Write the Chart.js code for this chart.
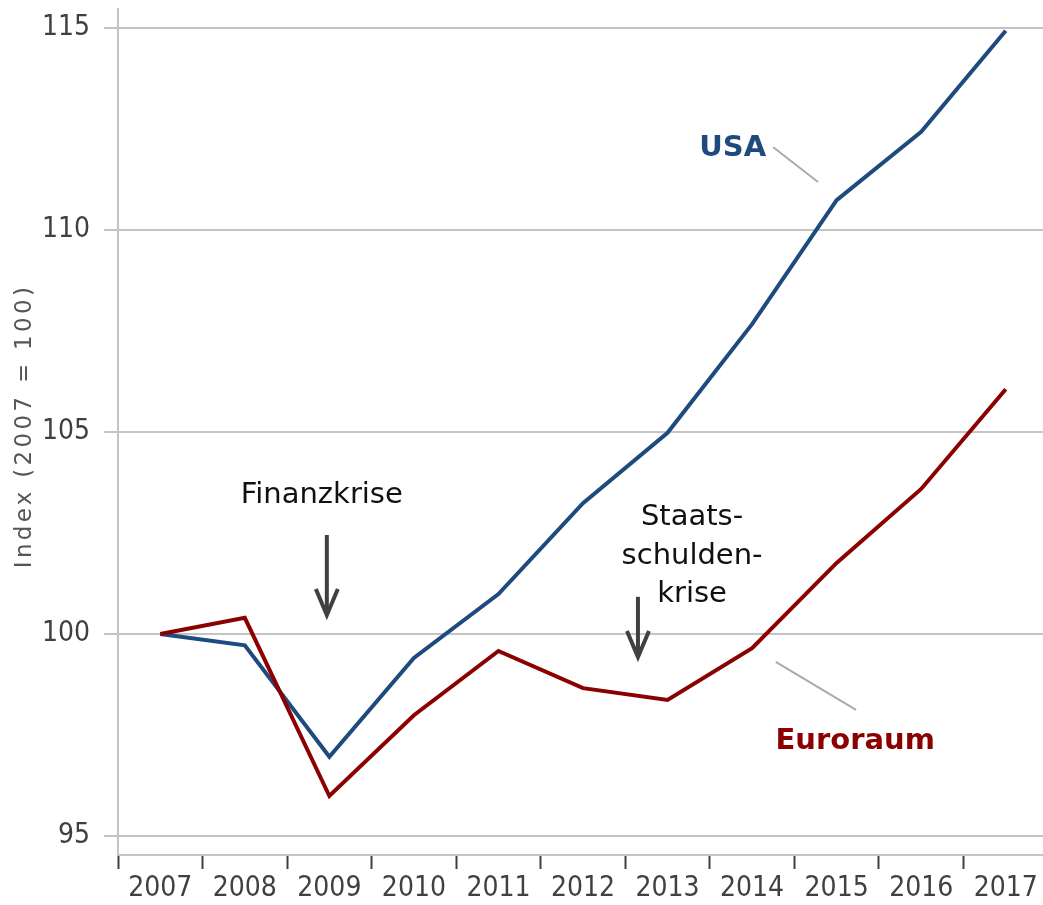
<!DOCTYPE html>
<html><head><meta charset="utf-8">
<script src="https://cdn.jsdelivr.net/npm/chart.js@4/dist/chart.umd.min.js"></script>
<style>
html,body{margin:0;padding:0;background:#fff;overflow:hidden;}
#wrap{position:relative;width:1048px;height:905px;}
</style></head>
<body><div id="wrap"><canvas id="c"></canvas></div>
<script>
const years = ['2007','2008','2009','2010','2011','2012','2013','2014','2015','2016','2017'];
const usa = [100, 99.72, 96.96, 99.41, 100.99, 103.24, 104.98, 107.67, 110.74, 112.43, 114.93];
const euro = [100, 100.40, 95.99, 97.99, 99.58, 98.66, 98.37, 99.65, 101.76, 103.59, 106.06];
const yTicks = [95, 100, 105, 110, 115];
const yTitle = 'Index (2007 = 100)';

const TICKFONT = "'DejaVu Sans Condensed', 'DejaVu Sans', sans-serif";
const FONT = "'DejaVu Sans', sans-serif";

const annot = {
  texts: [
    {t:['USA'], x:6.77, y:112.03, color:'#1f4a7e', bold:true, size:29},
    {t:['Euroraum'], x:8.22, y:97.33, color:'#8b0000', bold:true, size:29},
    {t:['Finanzkrise'], x:1.91, y:103.42, color:'#111', bold:false, size:29},
    {t:['Staats-','schulden-','krise'], x:6.29, y:101.93, color:'#111', bold:false, size:29, lh:38.5}
  ],
  leaders: [
    {x1:7.25, y1:112.05, x2:7.78, y2:111.19},
    {x1:7.28, y1:99.31, x2:8.23, y2:98.12}
  ],
  arrows: [
    {x:1.97, y1:102.45, y2:100.47},
    {x:5.65, y1:100.92, y2:99.43}
  ]
};

const annotPlugin = {
  id:'annot',
  afterDatasetsDraw(chart){
    const ctx = chart.ctx, xs = chart.scales.x, ys = chart.scales.y;
    const X = v => xs.getPixelForValue(v), Y = v => ys.getPixelForValue(v);
    ctx.save();
    ctx.strokeStyle = '#aaaaaa'; ctx.lineWidth = 2;
    annot.leaders.forEach(l => {
      ctx.beginPath(); ctx.moveTo(X(l.x1), Y(l.y1)); ctx.lineTo(X(l.x2), Y(l.y2)); ctx.stroke();
    });
    ctx.strokeStyle = '#404040'; ctx.lineWidth = 4; ctx.lineCap='butt'; ctx.lineJoin='miter';
    annot.arrows.forEach(a => {
      const x = X(a.x), y1 = Y(a.y1), y2 = Y(a.y2);
      ctx.beginPath(); ctx.moveTo(x, y1); ctx.lineTo(x, y2-2); ctx.stroke();
      ctx.beginPath(); ctx.moveTo(x-11, y2-26); ctx.lineTo(x, y2); ctx.lineTo(x+11, y2-26); ctx.stroke();
    });
    ctx.textAlign = 'center'; ctx.textBaseline = 'middle';
    annot.texts.forEach(t => {
      ctx.fillStyle = t.color;
      ctx.font = (t.bold ? 'bold ' : '') + t.size + 'px ' + FONT;
      const lh = t.lh || t.size;
      const cy = Y(t.y), cx = X(t.x);
      t.t.forEach((line, i) => {
        ctx.fillText(line, cx, cy + (i - (t.t.length-1)/2) * lh);
      });
    });
    // rotated y-axis title with letter spacing
    const ca = chart.chartArea;
    ctx.translate(25, (ca.top + ca.bottom)/2 - 6);
    ctx.rotate(-Math.PI/2);
    ctx.font = '23px ' + FONT;
    ctx.fillStyle = '#555';
    try { ctx.letterSpacing = '3.3px'; } catch(e) {}
    ctx.fillText(yTitle, 0, 0);
    ctx.restore();
  }
};

new Chart(document.getElementById('c'), {
  type:'line',
  data:{
    labels: years,
    datasets:[
      {label:'Euroraum', data: euro, borderColor:'#8b0000', borderWidth:4, pointRadius:0, tension:0, fill:false},
      {label:'USA', data: usa, borderColor:'#1f4a7e', borderWidth:4, pointRadius:0, tension:0, fill:false}
    ]
  },
  options:{
    responsive:true, maintainAspectRatio:false, animation:false,
    layout:{padding:{top:9, right:0, left:0, bottom:0}},
    plugins:{legend:{display:false}, tooltip:{enabled:false}},
    scales:{
      x:{
        type:'category', offset:true,
        grid:{display:true, drawOnChartArea:false, offset:true, tickLength:14, tickColor:'#404040', tickWidth:2},
        border:{display:true, color:'#c4c4c4', width:2},
        ticks:{color:'#404040', font:{family:TICKFONT, size:28}, padding:3, maxRotation:0, autoSkip:false},
        afterFit(s){ s.height = 50; s.paddingLeft = 0; s.paddingRight = 0; }
      },
      y:{
        min:94.53, max:115.47,
        afterBuildTicks(s){ s.ticks = yTicks.map(v => ({value:v})); },
        grid:{color:'#c4c4c4', lineWidth:2, tickLength:14, drawTicks:true},
        border:{display:true, color:'#c4c4c4', width:2},
        ticks:{color:'#404040', font:{family:TICKFONT, size:28}, padding:14},
        afterFit(s){ s.width = 118; s.paddingTop = 0; s.paddingBottom = 0; }
      }
    }
  },
  plugins:[annotPlugin]
});
</script></body></html>
